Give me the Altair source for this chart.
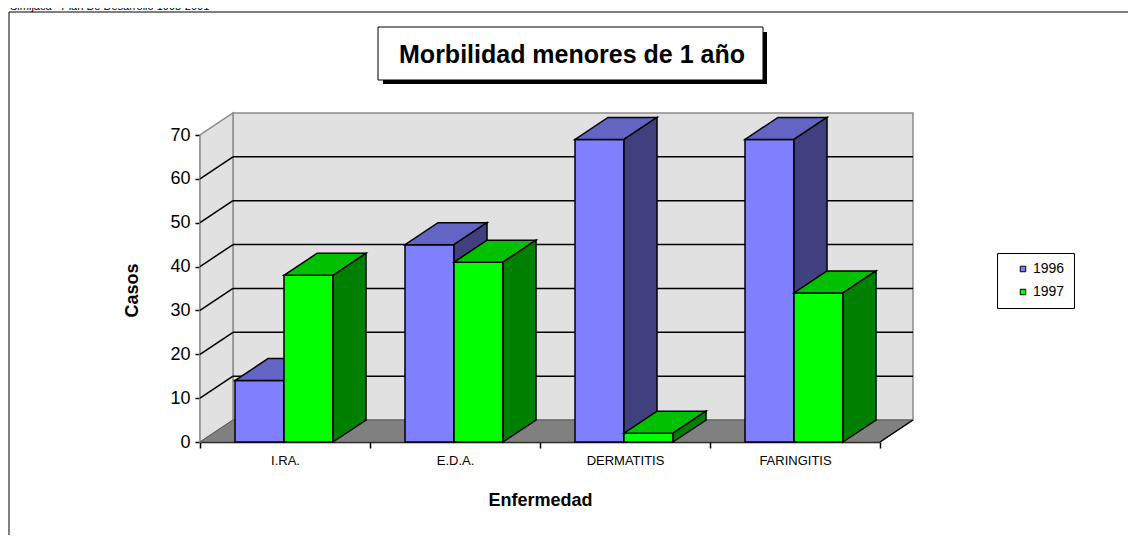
import json
import altair as alt
import pandas as pd

# ---------------- data ----------------
categories = ["I.RA.", "E.D.A.", "DERMATITIS", "FARINGITIS"]
series = ["1996", "1997"]
values_1996 = [14, 45, 69, 69]
values_1997 = [38, 41, 2, 34]
y_ticks = [0, 10, 20, 30, 40, 50, 60, 70]
title_text = "Morbilidad menores de 1 año"
header_text = "Simijaca - Plan De Desarrollo 1998-2001"

# ---------------- style ----------------
FONT = "Liberation Sans"
W, H = 680, 307
YMAX = 70
NCAT = len(categories)
PX_PER_CAT = W / NCAT
PX_PER_UNIT = H / YMAX
DX = 33 / PX_PER_CAT          # 3-D depth, in category units
DY = 22 / PX_PER_UNIT         # 3-D depth, in value units
BAR_START = [35 / PX_PER_CAT, 84 / PX_PER_CAT]
BAR_W = 49 / PX_PER_CAT

front_colors = ["#8080FF", "#00FF00"]
top_colors = ["#6464C4", "#00C000"]
side_colors = ["#40407F", "#008000"]
WALL = "#E1E1E1"
FLOOR = "#808080"
EDGE = "#8C8C8C"

xs = alt.Scale(domain=[0, NCAT], nice=False, zero=False)
ys = alt.Scale(domain=[0, YMAX], nice=False, zero=False)

label_list = json.dumps(categories + [""])
x_axis = alt.Axis(
    values=list(range(NCAT + 1)),
    labelExpr=f"{label_list}[datum.value]",
    labelOffset=PX_PER_CAT / 2,
    labelFlush=False, labelOverlap=False, labelBound=False,
    labelFont=FONT, labelFontSize=13, labelColor="black", labelPadding=6,
    tickSize=6, tickColor="black", tickWidth=1.5,
    domainColor="black", domainWidth=1.5, grid=False,
    title="Enfermedad", titleFont=FONT, titleFontSize=18, titleFontWeight="bold",
    titleColor="black", titleY=63, titleBaseline="alphabetic",
)
y_axis = alt.Axis(
    values=y_ticks,
    labelFont=FONT, labelFontSize=18, labelColor="black", labelPadding=5,
    tickSize=5, tickColor="black", tickWidth=1.5,
    domainColor="black", domainWidth=1.5, grid=False,
    title="Casos", titleFont=FONT, titleFontSize=18, titleFontWeight="bold",
    titleColor="black", titleAngle=270, titleX=-68, titleY=155,
    titleAlign="center", titleBaseline="middle",
)


def X(f):
    return alt.X(f, type="quantitative", scale=xs, axis=x_axis)


def Y(f):
    return alt.Y(f, type="quantitative", scale=ys, axis=y_axis)


# ---------------- walls & floor ----------------
left_wall = pd.DataFrame({"x": [0, DX], "lo": [0, DY], "hi": [YMAX, YMAX + DY]})
back_wall = pd.DataFrame({"x0": [DX], "x1": [NCAT + DX], "lo": [DY], "hi": [YMAX + DY]})
floor = pd.DataFrame({"x": [0, DX, NCAT, NCAT + DX],
                      "lo": [0, 0, 0, DY], "hi": [0, DY, DY, DY]})
floor_edge = pd.DataFrame({"x0": [NCAT], "x1": [NCAT + DX], "y0": [0], "y1": [DY]})
grid_vals = [v for v in y_ticks if 0 < v < YMAX]
grid_back = pd.DataFrame({"x0": [DX] * len(grid_vals), "x1": [NCAT + DX] * len(grid_vals),
                          "y": [v + DY for v in grid_vals]})
grid_side = pd.DataFrame({"x0": [0] * len(grid_vals), "x1": [DX] * len(grid_vals),
                          "y0": grid_vals, "y1": [v + DY for v in grid_vals]})

layers = []
layers.append(alt.Chart(back_wall).mark_rect(fill=WALL, stroke=EDGE, strokeWidth=1.5).encode(
    x=X("x0"), x2=alt.X2("x1"), y=Y("lo"), y2=alt.Y2("hi")))
layers.append(alt.Chart(left_wall).mark_area(fill=WALL, stroke=EDGE, strokeWidth=1.5).encode(
    x=X("x"), y=Y("lo"), y2=alt.Y2("hi")))
layers.append(alt.Chart(floor).mark_area(fill=FLOOR, stroke="#5a5a5a", strokeWidth=1).encode(
    x=X("x"), y=Y("lo"), y2=alt.Y2("hi")))
layers.append(alt.Chart(floor_edge).mark_rule(color="black", strokeWidth=1.5).encode(
    x=X("x0"), x2=alt.X2("x1"), y=Y("y0"), y2=alt.Y2("y1")))
layers.append(alt.Chart(grid_back).mark_rule(color="black", strokeWidth=1.5).encode(
    x=X("x0"), x2=alt.X2("x1"), y=Y("y")))
layers.append(alt.Chart(grid_side).mark_rule(color="black", strokeWidth=1.5).encode(
    x=X("x0"), x2=alt.X2("x1"), y=Y("y0"), y2=alt.Y2("y1")))

# ---------------- bars ----------------
color_scale = alt.Scale(domain=series, range=front_colors)
legend = alt.Legend(
    orient="none", legendX=797, legendY=118, title=None,
    symbolType="square", symbolSize=30, symbolStrokeColor="black", symbolStrokeWidth=1,
    symbolOffset=10, labelFont=FONT, labelFontSize=14, labelColor="black", labelOffset=3,
    rowPadding=9, padding=9, strokeColor="black", fillColor="white",
)

for si, (s, vals) in enumerate(zip(series, [values_1996, values_1997])):
    fr, tp, sd = [], [], []
    for ci, (cat, v) in enumerate(zip(categories, vals)):
        x0 = ci + BAR_START[si]
        x1 = x0 + BAR_W
        fr.append({"series": s, "cat": cat, "x0": x0, "x1": x1, "lo": 0, "hi": v})
        key = f"{s}-{cat}"
        for x, lo, hi in [(x0, v, v), (x0 + DX, v, v + DY), (x1, v, v + DY), (x1 + DX, v + DY, v + DY)]:
            tp.append({"key": key, "x": x, "lo": lo, "hi": hi})
        for x, lo, hi in [(x1, 0, v), (x1 + DX, DY, v + DY)]:
            sd.append({"key": key, "x": x, "lo": lo, "hi": hi})
    layers.append(alt.Chart(pd.DataFrame(fr)).mark_rect(stroke="black", strokeWidth=1.5).encode(
        x=X("x0"), x2=alt.X2("x1"), y=Y("lo"), y2=alt.Y2("hi"),
        color=alt.Color("series:N", scale=color_scale, legend=legend)))
    layers.append(alt.Chart(pd.DataFrame(tp)).mark_area(
        fill=top_colors[si], stroke="black", strokeWidth=1.5).encode(
        x=X("x"), y=Y("lo"), y2=alt.Y2("hi"), detail="key:N"))
    layers.append(alt.Chart(pd.DataFrame(sd)).mark_area(
        fill=side_colors[si], stroke="black", strokeWidth=1.5).encode(
        x=X("x"), y=Y("lo"), y2=alt.Y2("hi"), detail="key:N"))

# ---------------- decorations (frame, title box, header) ----------------
one = pd.DataFrame({"a": [0]})
layers.append(alt.Chart(one).mark_rect(fillOpacity=0, stroke="black", strokeWidth=1).encode(
    x=alt.value(-191), x2=alt.value(960), y=alt.value(-123), y2=alt.value(420)))
layers.append(alt.Chart(one).mark_rect(fill="black").encode(
    x=alt.value(183), x2=alt.value(567), y=alt.value(-103), y2=alt.value(-51)))
layers.append(alt.Chart(one).mark_rect(fill="white", stroke="black", strokeWidth=1).encode(
    x=alt.value(178), x2=alt.value(563), y=alt.value(-108), y2=alt.value(-55)))
layers.append(alt.Chart(pd.DataFrame({"t": [title_text]})).mark_text(
    font=FONT, fontSize=25, fontWeight="bold", color="black", align="center",
    baseline="alphabetic").encode(x=alt.value(372), y=alt.value(-72), text="t:N"))
layers.append(alt.Chart(pd.DataFrame({"t": [header_text]})).mark_text(
    font=FONT, fontSize=11, color="black", align="left",
    baseline="alphabetic").encode(x=alt.value(-190), y=alt.value(-125), text="t:N"))

chart = alt.layer(*layers).properties(
    width=W, height=H,
    padding={"left": 192, "top": 127, "right": 248, "bottom": 93},
    autosize=alt.AutoSizeParams(type="none"),
).configure_view(stroke=None)

chart.save("out.html", embed_options={"renderer": "svg", "actions": False})
